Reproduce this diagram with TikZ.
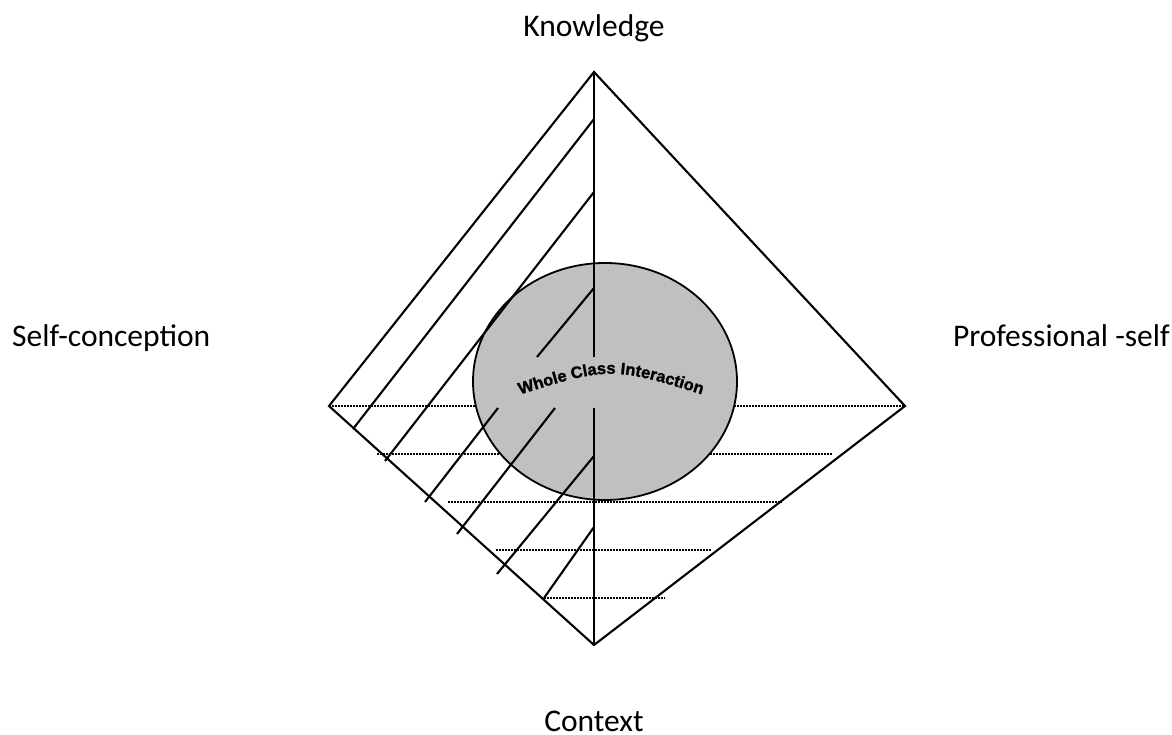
\documentclass[tikz,border=0pt]{standalone}
\usepackage{fontspec}
\setmainfont{Carlito}
\newfontfamily\wcfont[FakeBold=1.5]{Liberation Sans}
\newcommand\wctitlefont{\wcfont\bfseries\fontsize{16.5}{18}\selectfont}
\usetikzlibrary{decorations.text,shapes.geometric}
\definecolor{discgray}{RGB}{192,192,192}
\tikzset{
  outline/.style={line width=2.1pt, line join=miter},
  hatch/.style={line width=2.1pt},
  dotline/.style={line width=1.5pt, dash pattern=on 1.5pt off 1.5pt},
  disc/.style={fill=discgray, draw=black, line width=1.8pt},
  corner label/.style={font=\fontsize{31.5}{38}\selectfont, inner sep=0pt}
}
\begin{document}
\begin{tikzpicture}[x=1pt,y=1pt]
\useasboundingbox (0,0) rectangle (1172,734);
% vertices
\coordinate (T) at (594,662);
\coordinate (R) at (905,328);
\coordinate (B) at (594,89);
\coordinate (L) at (329,328);
% dotted horizontals
\draw[dotline] (L) -- (R);
\draw[dotline] (377,280) coordinate (h2a) -- (833,280) coordinate (h2b);
\draw[dotline] (448,232) coordinate (h3a) -- (782,232) coordinate (h3b);
\draw[dotline] (496,184) coordinate (h4a) -- (712,184) coordinate (h4b);
\draw[dotline] (544,136) coordinate (h5a) -- (665,136) coordinate (h5b);
% disc
\node[disc, ellipse, minimum width=264pt, minimum height=237pt, inner sep=0pt] (disc) at (605,352.5) {};
% diamond outline
\draw[outline] (T) -- (R) -- (B) -- (L) -- cycle;
% vertical axis with gap
\coordinate (v1) at (594,377);
\coordinate (v2) at (594,326);
\draw[hatch] (T) -- (v1);
\draw[hatch] (v2) -- (B);
% diagonal hatch lines
\draw[hatch] (594,615) coordinate (d1a) -- (353,305) coordinate (d1b);
\draw[hatch] (594,542) coordinate (d2a) -- (385,273) coordinate (d2b);
\draw[hatch] (594,446) coordinate (d3a) -- (537,377) coordinate (d3b);
\draw[hatch] (498,326) coordinate (d3c) -- (425,232) coordinate (d3d);
\draw[hatch] (555,326) coordinate (d4a) -- (457,200) coordinate (d4b);
\draw[hatch] (594,278) coordinate (d5a) -- (497,160) coordinate (d5b);
\draw[hatch] (594,207) coordinate (d6a) -- (544,136) coordinate (d6b);
% curved title
\path[decorate, decoration={text along path, text align=center,
  text={|\wctitlefont|Whole Class Interaction}}]
  (512,337) .. controls (611,368) .. (710,337);
% labels
\node[corner label, anchor=base] (know) at (594,697) {Knowledge};
\node[corner label, anchor=base west] (self) at (12,387) {Self-conception};
\node[corner label, anchor=base east] (prof) at (1170,387) {Professional -self};
\node[corner label, anchor=base] (ctx) at (594,3) {Context};
\end{tikzpicture}
\end{document}
